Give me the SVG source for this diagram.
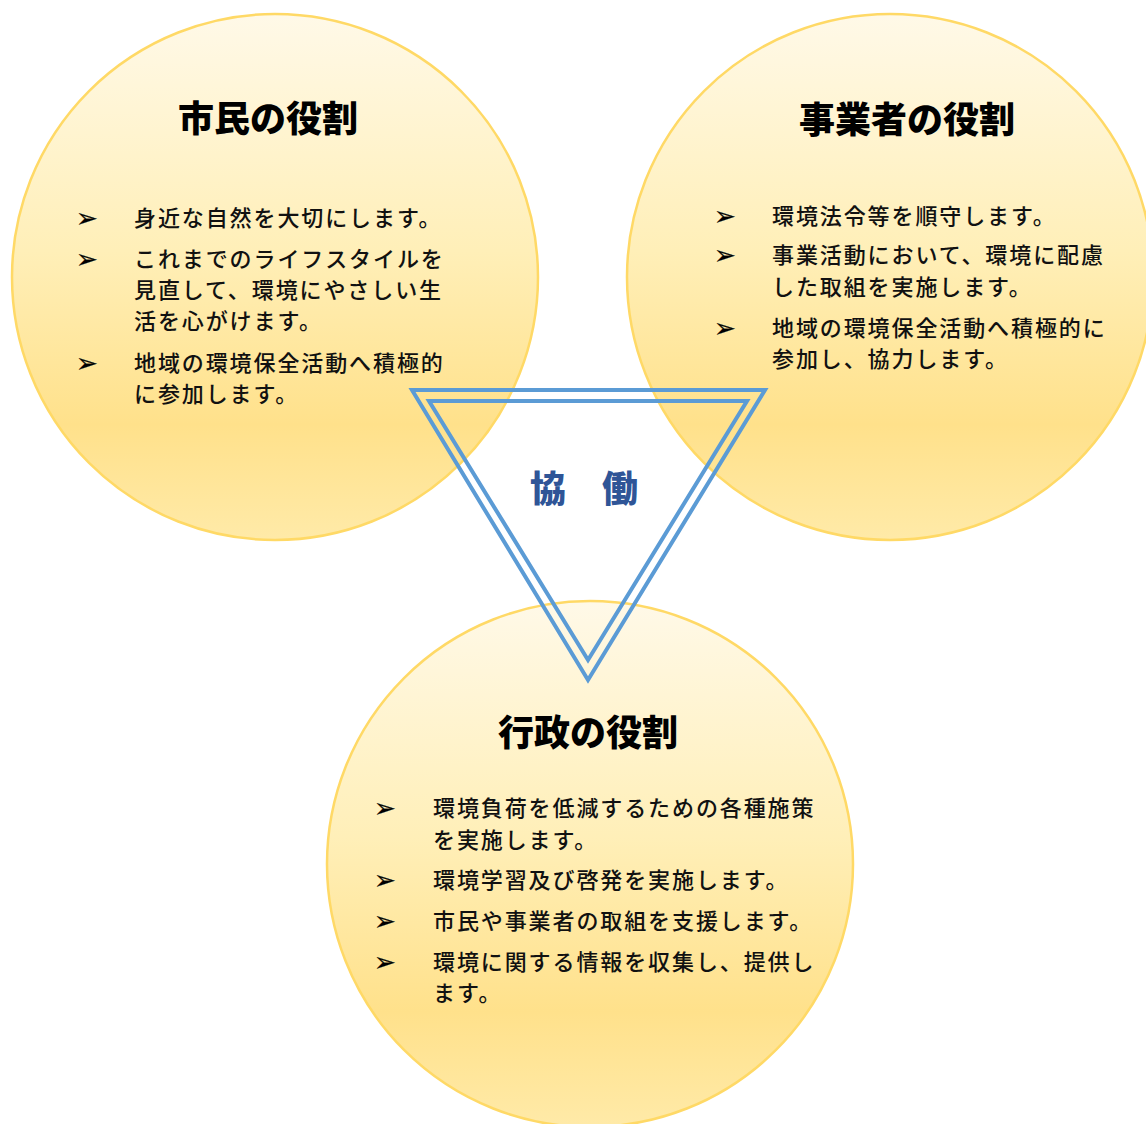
<svg xmlns="http://www.w3.org/2000/svg" width="1146" height="1124" viewBox="0 0 1146 1124">
<defs>
<linearGradient id="g" x1="0" y1="0" x2="0" y2="1">
<stop offset="0" stop-color="#FFF9E8"/>
<stop offset="0.45" stop-color="#FFEFB8"/>
<stop offset="0.78" stop-color="#FFE18B"/>
<stop offset="1" stop-color="#FFEAA8"/>
</linearGradient>
<style>
.c{fill:url(#g);stroke:#FFD966;stroke-width:2.5}
.t{font-family:"Noto Sans CJK JP","Noto Sans CJK SC",sans-serif;font-weight:900;font-size:36px;fill:#000;text-anchor:middle}
.b{font-family:"Noto Sans CJK JP","Noto Sans CJK SC",sans-serif;font-weight:500;font-size:22px;letter-spacing:1.9px;fill:#111}
.u{font-family:"DejaVu Sans",sans-serif;font-size:26px;fill:#000;stroke:#000;stroke-width:0.3}
.tri{fill:none;stroke:#5B9BD5;stroke-width:4;stroke-linejoin:miter}
.k{font-family:"Noto Sans CJK JP","Noto Sans CJK SC",sans-serif;font-weight:900;font-size:36px;fill:#2F5597}
</style>
</defs>
<rect width="1146" height="1124" fill="#fff"/>
<g id="citizen">
<circle class="c" cx="275" cy="277" r="263"/>
<text class="t" x="268" y="132">市民の役割</text>
<text class="u" x="76" y="227">➢</text>
<text class="b" x="134" y="226">身近な自然を大切にします。</text>
<text class="u" x="76" y="268">➢</text>
<text class="b" x="134" y="267">これまでのライフスタイルを</text>
<text class="b" x="134" y="298">見直して、環境にやさしい生</text>
<text class="b" x="134" y="329">活を心がけます。</text>
<text class="u" x="76" y="372">➢</text>
<text class="b" x="134" y="371">地域の環境保全活動へ積極的</text>
<text class="b" x="134" y="402">に参加します。</text>
</g>
<g id="business">
<circle class="c" cx="890" cy="277" r="263"/>
<text class="t" x="907" y="133">事業者の役割</text>
<text class="u" x="714" y="225">➢</text>
<text class="b" x="772" y="224">環境法令等を順守します。</text>
<text class="u" x="714" y="264">➢</text>
<text class="b" x="772" y="263">事業活動において、環境に配慮</text>
<text class="b" x="772" y="295">した取組を実施します。</text>
<text class="u" x="714" y="337">➢</text>
<text class="b" x="772" y="336">地域の環境保全活動へ積極的に</text>
<text class="b" x="772" y="367">参加し、協力します。</text>
</g>
<g id="government">
<circle class="c" cx="590" cy="864" r="263"/>
<text class="t" x="588" y="746">行政の役割</text>
<text class="u" x="374" y="817">➢</text>
<text class="b" x="433" y="816">環境負荷を低減するための各種施策</text>
<text class="b" x="433" y="848">を実施します。</text>
<text class="u" x="374" y="889">➢</text>
<text class="b" x="433" y="888">環境学習及び啓発を実施します。</text>
<text class="u" x="374" y="930">➢</text>
<text class="b" x="433" y="929">市民や事業者の取組を支援します。</text>
<text class="u" x="374" y="971">➢</text>
<text class="b" x="433" y="970">環境に関する情報を収集し、提供し</text>
<text class="b" x="433" y="1001">ます。</text>
</g>
<g id="connectors">
<polygon class="tri" points="412,390 765,390 588,680"/>
<polygon class="tri" points="429,401 747,401 588,660"/>
</g>
<g id="collab">
<text class="k" x="530" y="502">協　働</text>
</g>
</svg>
